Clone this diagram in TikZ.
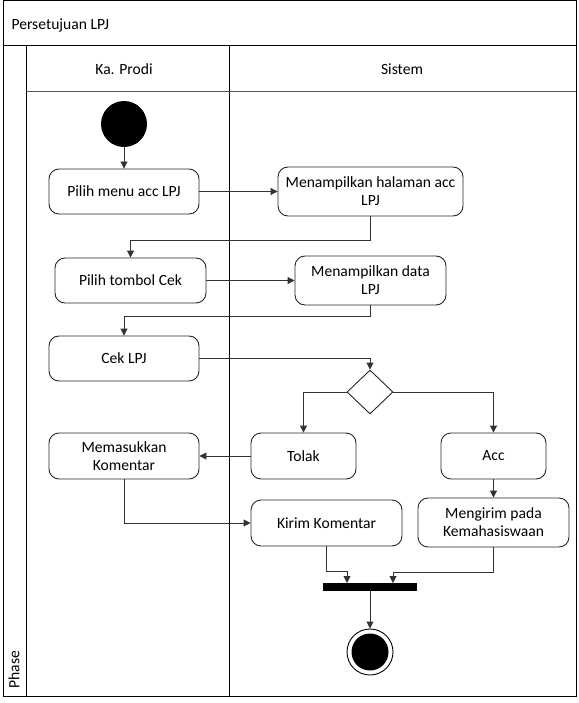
\documentclass[tikz,border=0pt]{standalone}
\usepackage{fontspec}
\setmainfont{Carlito}
\usetikzlibrary{shapes.geometric,arrows.meta}
\begin{document}
\begin{tikzpicture}[x=1pt,y=-1pt,
  every node/.style={font=\fontsize{15.6}{18}\selectfont},
  act/.style={draw=black!85,rounded corners=10pt,line width=0.9pt,align=center,inner sep=0pt},
  flow/.style={draw=black!80,line width=0.9pt,-{Triangle[length=7pt,width=7pt]}},
  frame/.style={draw=black,line width=1pt}]
\useasboundingbox (0,0) rectangle (578,703);
% pool and lanes
\draw[frame] (3,1) rectangle (576,696);
\draw[frame] (3,46) -- (576,46);
\draw[frame] (26,46) -- (26,696);
\draw[frame] (229,46) -- (229,696);
\draw[draw=black!65,line width=1pt] (26,92) -- (576,92);
\node[anchor=west] (title) at (8,25) {Persetujuan LPJ};
\node (laneA) at (124,69) {Ka. Prodi};
\node (laneB) at (402,69) {Sistem};
\node[rotate=90,anchor=west] (phase) at (14,692) {Phase};
% activities
\node[circle,fill=black,minimum size=46pt,inner sep=0pt] (start) at (124,124) {};
\node[act,minimum width=150pt,minimum height=45pt] (menu) at (124,191.5) {Pilih menu acc LPJ};
\node[act,minimum width=185pt,minimum height=49pt] (hal) at (370.5,191.5) {Menampilkan halaman acc\\LPJ};
\node[act,minimum width=151pt,minimum height=45pt] (tombol) at (130.5,280.5) {Pilih tombol Cek};
\node[act,minimum width=151pt,minimum height=49pt] (data) at (370.5,280.5) {Menampilkan data\\LPJ};
\node[act,minimum width=150pt,minimum height=45pt] (cek) at (124,358.5) {Cek LPJ};
\node[diamond,draw=black!85,line width=0.9pt,minimum width=46pt,minimum height=44pt,inner sep=0pt] (dec) at (370,392) {};
\node[act,minimum width=105pt,minimum height=46pt] (tolak) at (303.5,456) {Tolak};
\node[act,minimum width=105pt,minimum height=46pt] (acc) at (493.5,456) {Acc};
\node[act,minimum width=150pt,minimum height=46pt] (komen) at (124,456) {Memasukkan\\Komentar};
\node[act,minimum width=151pt,minimum height=46pt] (kirim) at (326.5,523) {Kirim Komentar};
\node[act,minimum width=151pt,minimum height=49pt] (kemah) at (493.5,522.5) {Mengirim pada\\Kemahasiswaan};
\node[fill=black,minimum width=94pt,minimum height=8pt,inner sep=0pt] (bar) at (370,587) {};
\node[circle,draw=black,line width=0.9pt,minimum size=46pt,inner sep=0pt] (endo) at (370,652) {};
\node[circle,fill=black,minimum size=37pt,inner sep=0pt] (endi) at (370,652) {};
\coordinate (barL) at (347,583);
\coordinate (barR) at (393,583);
% flows
\draw[flow] (start) -- (menu);
\draw[flow] (menu) -- (hal);
\draw[flow] (hal.south) |- (130.5,240) -- (tombol.north);
\draw[flow] (tombol) -- (data);
\draw[flow] (data.south) |- (124,316) -- (cek.north);
\draw[flow] (cek.east) -| (dec.north);
\draw[flow] (dec.west) -| (tolak.north);
\draw[flow] (dec.east) -| (acc.north);
\draw[flow] (tolak) -- (komen);
\draw[flow] (acc) -- (kemah);
\draw[flow] (komen.south) |- (kirim.west);
\draw[flow] (kirim.south) |- (347,571) -- (barL);
\draw[flow] (kemah.south) |- (393,572) -- (barR);
\draw[flow] (bar) -- (endo);
\end{tikzpicture}
\end{document}
